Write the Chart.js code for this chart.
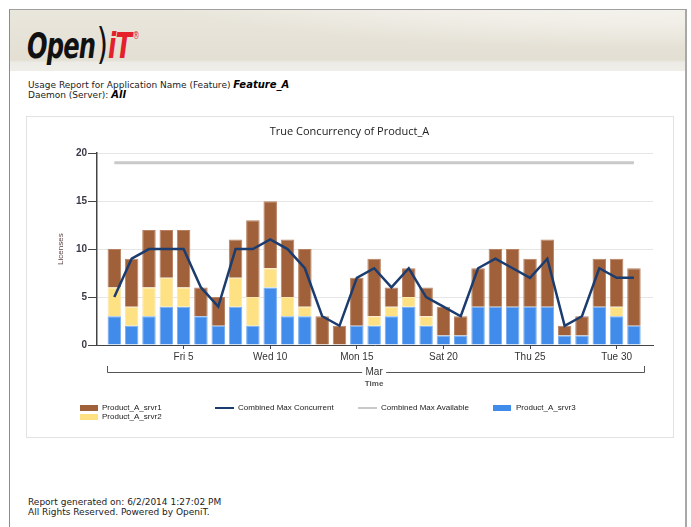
<!DOCTYPE html>
<html>
<head>
<meta charset="utf-8">
<script src="https://cdn.jsdelivr.net/npm/chart.js@4.4.0/dist/chart.umd.min.js"></script>
<style>
  body { margin: 0; background: #fff; font-family: "DejaVu Sans", Verdana, sans-serif; }
  #frame { position: absolute; left: 9px; top: 9px; width: 675px; height: 530px; border-left: 1px solid #8c8c8c; border-top: 1px solid #a0a0a0; border-right: 2px solid #a8a8a8; }
  #header { position: absolute; left: 10px; top: 10px; width: 675px; height: 61px;
    background: radial-gradient(ellipse 520px 60px at 640px -22px, #f7f6f1 0%, #f1efe8 55%, rgba(230,226,214,0) 100%), linear-gradient(#e9e6dc, #e3dfd3 82%, #ecebe6 86%, #efeee9 100%); }
  #logo { position: absolute; left: 27px; top: 19px; font-family: "Liberation Sans Narrow", "DejaVu Sans Condensed", "Liberation Sans", sans-serif; font-weight: bold; font-style: italic; font-size: 32px; letter-spacing: -1px; transform: scale(0.84, 1.1); transform-origin: left top; color: #111; white-space: nowrap; }
  #logo .par { font-weight: normal; font-style: normal; font-size: 38px; position: relative; top: 1px; margin: 0 1px 0 2px; }
  #logo .it { color: #e4202a; }
  #logo sup { color: #e4202a; font-size: 9px; font-style: normal; font-weight: normal; vertical-align: 17px; margin-left: 2px; }
  .info { position: absolute; left: 28px; font-size: 9px; color: #222; line-height: 10px; }
  .info b { font-style: italic; font-size: 10px; color: #000; }
  #box { position: absolute; left: 26px; top: 116px; width: 646px; height: 320px; border: 1px solid #e2e2e2; }
  #chart { position: absolute; left: 26px; top: 116px; }
  .lg { position: absolute; font-family: "Liberation Sans", Arial, sans-serif; font-size: 8px; color: #222; line-height: 10px; white-space: nowrap; }
  .sw { position: absolute; width: 18px; height: 6px; }
  .ln { position: absolute; width: 19px; height: 2px; }
</style>
</head>
<body>
<div id="frame"></div>
<div id="header"></div>
<div id="logo">Open<span class="par">)</span><span class="it">iT</span><sup>®</sup></div>
<div class="info" style="top:80px">Usage Report for Application Name (Feature) <b>Feature_A</b></div>
<div class="info" style="top:90px">Daemon (Server): <b>All</b></div>
<div id="box"></div>
<canvas id="chart" width="647" height="321"></canvas>

<div class="sw" style="left:80px;top:405px;background:#a0603a"></div>
<div class="lg" style="left:102px;top:403px">Product_A_srvr1</div>
<div class="sw" style="left:80px;top:414px;background:#fde183"></div>
<div class="lg" style="left:102px;top:412px">Product_A_srvr2</div>
<div class="ln" style="left:215px;top:407px;background:#1b3c6e"></div>
<div class="lg" style="left:238px;top:403px">Combined Max Concurrent</div>
<div class="ln" style="left:358px;top:407px;background:#c9c9c9"></div>
<div class="lg" style="left:381px;top:403px">Combined Max Available</div>
<div class="sw" style="left:493px;top:405px;background:#418ceb"></div>
<div class="lg" style="left:516px;top:403px">Product_A_srvr3</div>

<div class="info" style="top:497px">Report generated on: 6/2/2014 1:27:02 PM</div>
<div class="info" style="top:507px">All Rights Reserved. Powered by OpeniT.</div>

<script>
const days = [1, 2, 3, 4, 5, 6, 7, 8, 9, 10, 11, 12, 13, 14, 15, 16, 17, 18, 19, 20, 21, 22, 23, 24, 25, 26, 27, 28, 29, 30, 31];
const srvr3 = [3, 2, 3, 4, 4, 3, 2, 4, 2, 6, 3, 3, 0, 0, 2, 2, 3, 4, 2, 1, 1, 4, 4, 4, 4, 4, 1, 1, 4, 3, 2];
const srvr2 = [3, 2, 3, 3, 2, 0, 0, 3, 3, 2, 2, 1, 0, 0, 0, 1, 1, 1, 1, 0, 0, 0, 0, 0, 0, 0, 0, 0, 0, 1, 0];
const srvr1 = [4, 5, 6, 5, 6, 3, 3, 4, 8, 7, 6, 6, 3, 2, 5, 6, 2, 3, 3, 3, 2, 4, 6, 6, 5, 7, 1, 2, 5, 5, 6];
const maxConcurrent = [5, 9, 10, 10, 10, 6, 4, 10, 10, 11, 10, 8, 3, 2, 7, 8, 6, 8, 5, 4, 3, 8, 9, 8, 7, 9, 2, 3, 8, 7, 7];
const maxAvailable = [19, 19, 19, 19, 19, 19, 19, 19, 19, 19, 19, 19, 19, 19, 19, 19, 19, 19, 19, 19, 19, 19, 19, 19, 19, 19, 19, 19, 19, 19, 19];
const tickDays = [5, 10, 15, 20, 25, 30];
const tickLabels = ['Fri 5', 'Wed 10', 'Mon 15', 'Sat 20', 'Thu 25', 'Tue 30'];
const monthLabel = 'Mar';
const monthSpan = [0.6, 31.6];

const pts = arr => arr.map((v, i) => ({ x: days[i], y: v }));

// month bracket + "Time" under the x axis
const bracket = {
  id: 'bracket',
  afterDraw(c) {
    const sx = c.scales.x, g = c.ctx;
    const l = Math.round(sx.getPixelForValue(monthSpan[0])), r = Math.round(sx.getPixelForValue(monthSpan[1]));
    const m = sx.getPixelForValue(16), y = Math.round(sx.top + 27);
    g.save();
    g.strokeStyle = '#555'; g.lineWidth = 1;
    g.beginPath();
    g.moveTo(l + 0.5, y - 6); g.lineTo(l + 0.5, y + 0.5); g.lineTo(m - 12, y + 0.5);
    g.moveTo(m + 12, y + 0.5); g.lineTo(r + 0.5, y + 0.5); g.lineTo(r + 0.5, y - 6);
    g.stroke();
    g.fillStyle = '#333'; g.textAlign = 'center'; g.textBaseline = 'middle';
    g.font = '10px "Liberation Sans", Arial, sans-serif';
    g.fillText(monthLabel, m, y);
    g.fillStyle = '#555'; g.font = 'bold 8px "Liberation Sans", Arial, sans-serif';
    g.fillText('Time', m, y + 12);
    g.restore();
  }
};

const barStyle = { stack: 'bars', order: 2, borderWidth: 1, barPercentage: 0.78, categoryPercentage: 1 };

new Chart(document.getElementById('chart'), {
  type: 'bar',
  data: {
    datasets: [
      { type: 'line', label: 'Combined Max Concurrent', data: pts(maxConcurrent), borderColor: '#1b3c6e', borderWidth: 2.5, pointRadius: 0, stack: 'c', order: 0 },
      { type: 'line', label: 'Combined Max Available', data: pts(maxAvailable), borderColor: '#c9c9c9', borderWidth: 3, pointRadius: 0, stack: 'a', order: 1 },
      { label: 'Product_A_srvr3', data: pts(srvr3), backgroundColor: '#418ceb', borderColor: '#78aef0', ...barStyle },
      { label: 'Product_A_srvr2', data: pts(srvr2), backgroundColor: '#fde183', borderColor: '#fbe8b0', ...barStyle },
      { label: 'Product_A_srvr1', data: pts(srvr1), backgroundColor: '#a0603a', borderColor: '#b88262', ...barStyle }
    ]
  },
  options: {
    responsive: false,
    animation: false,
    layout: { padding: { left: 20, right: 20, top: 0, bottom: 0 } },
    plugins: {
      legend: { display: false },
      tooltip: { enabled: false },
      title: { display: true, text: 'True Concurrency of Product_A', color: '#222', font: { size: 11, weight: 'normal', family: '"Open Sans", Arial, sans-serif' }, padding: { top: 9, bottom: 15 } }
    },
    scales: {
      x: {
        type: 'linear', min: 0, max: 32.1, stacked: true, offset: false,
        afterFit: s => { s.height = 92; },
        afterBuildTicks: s => { s.ticks = tickDays.map(v => ({ value: v })); },
        ticks: { callback: v => tickLabels[tickDays.indexOf(v)], color: '#333', font: { size: 10, family: '"Liberation Sans", Arial, sans-serif' }, padding: 2, maxRotation: 0, autoSkip: false },
        grid: { offset: false, drawOnChartArea: false, tickLength: 4, tickColor: '#444' },
        border: { color: '#444' }
      },
      y: {
        min: 0, max: 20, stacked: true,
        afterFit: s => { s.width = 51; },
        ticks: { stepSize: 5, color: '#3a3a48', padding: 1, font: { size: 10, weight: 'bold', family: '"Liberation Sans", Arial, sans-serif' } },
        grid: { color: '#e6e6e6', tickLength: 9, tickColor: '#444' },
        border: { color: '#444', width: 1.5 },
        title: { display: true, text: 'Licenses', color: '#5c4444', font: { size: 8, family: '"Liberation Sans", Arial, sans-serif' }, padding: { top: 10, bottom: 0 } }
      }
    }
  },
  plugins: [bracket]
});
</script>
</body>
</html>
